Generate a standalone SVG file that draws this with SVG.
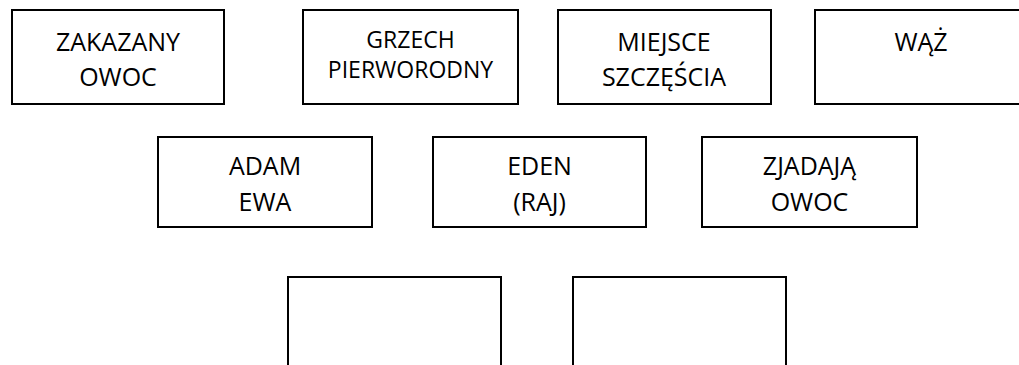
<svg xmlns="http://www.w3.org/2000/svg" width="1019" height="365" viewBox="0 0 1019 365">
<style>
.box{fill:#fff;stroke:#000;stroke-width:2}
.t{font-family:"Open Sans","Liberation Sans",sans-serif;font-size:25px;fill:#000;text-anchor:middle}
.s{font-size:23px}
</style>
<rect width="1019" height="365" fill="#fff"/>
<g id="connectors"/>
<g id="n-zakazany-owoc">
<rect class="box" x="12" y="10" width="212" height="94"/>
<text class="t" x="118" y="51">ZAKAZANY</text>
<text class="t" x="118" y="86">OWOC</text>
</g>
<g id="n-grzech">
<rect class="box" x="303" y="10" width="215" height="94"/>
<text class="t s" x="410.5" y="48">GRZECH</text>
<text class="t s" x="410.5" y="78">PIERWORODNY</text>
</g>
<g id="n-miejsce">
<rect class="box" x="558" y="10" width="213" height="94"/>
<text class="t" x="664" y="51">MIEJSCE</text>
<text class="t" x="664" y="86">SZCZĘŚCIA</text>
</g>
<g id="n-waz">
<rect class="box" x="815" y="10" width="213" height="94"/>
<text class="t" x="921" y="51">WĄŻ</text>
</g>
<g id="n-adam-ewa">
<rect class="box" x="158" y="137" width="214" height="90"/>
<text class="t" x="265" y="175">ADAM</text>
<text class="t" x="265" y="211">EWA</text>
</g>
<g id="n-eden">
<rect class="box" x="433" y="137" width="213" height="90"/>
<text class="t" x="539.5" y="175">EDEN</text>
<text class="t" x="539.5" y="211">(RAJ)</text>
</g>
<g id="n-zjadaja">
<rect class="box" x="702" y="137" width="215" height="90"/>
<text class="t" x="809.5" y="175">ZJADAJĄ</text>
<text class="t" x="809.5" y="211">OWOC</text>
</g>
<g id="n-empty-1">
<rect class="box" x="288" y="277" width="213" height="100"/>
</g>
<g id="n-empty-2">
<rect class="box" x="573" y="277" width="213" height="100"/>
</g>
</svg>
